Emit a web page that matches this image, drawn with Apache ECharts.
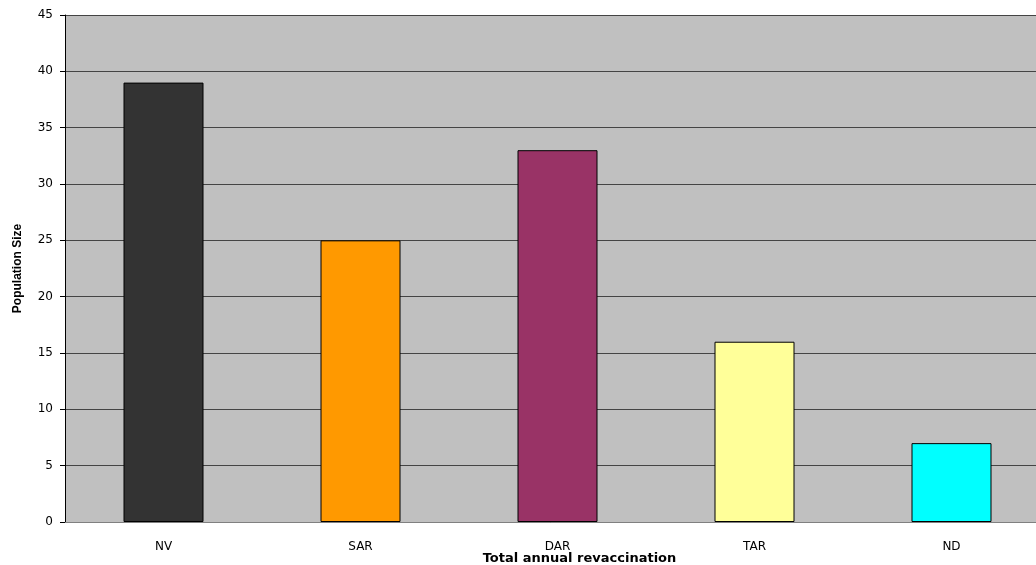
<!DOCTYPE html>
<html><head><meta charset="utf-8">
<script src="https://cdn.jsdelivr.net/npm/echarts@6/dist/echarts.min.js"></script>
<style>html,body{margin:0;padding:0;background:#fff}#c{width:1036px;height:565px}</style>
</head><body><div id="c"></div>
<script>
const categories = ['NV', 'SAR', 'DAR', 'TAR', 'ND'];
const values = [39, 25, 33, 16, 7];
const colors = ['#333333', '#FF9900', '#993366', '#FFFF99', '#00FFFF'];
const yTicks = [0, 5, 10, 15, 20, 25, 30, 35, 40, 45];

const FONT = 'DejaVu Sans, Liberation Sans, Arial';
const chart = echarts.init(document.getElementById('c'), null, {renderer: 'canvas'});
chart.setOption({
  animation: false,
  backgroundColor: '#ffffff',
  grid: {left: 65, right: -14, top: 15, bottom: 43, outerBoundsMode: 'none', containLabel: false,
         show: true, backgroundColor: '#C0C0C0', borderWidth: 0},
  xAxis: {
    type: 'category', data: categories,
    name: 'Total annual revaccination', nameLocation: 'middle', nameGap: 30, nameMoveOverlap: false,
    nameTextStyle: {fontFamily: FONT, fontWeight: 'bold', fontSize: 13, color: '#000', padding: [0, 0, 0, 44]},
    axisLine: {lineStyle: {color: '#808080', width: 1}},
    axisTick: {show: false},
    axisLabel: {fontFamily: FONT, fontSize: 12, color: '#000', margin: 19}
  },
  yAxis: {
    type: 'value', min: 0, max: 45, interval: 5,
    name: 'Population Size', nameLocation: 'middle', nameGap: 41, nameRotate: 90, nameMoveOverlap: false,
    nameTextStyle: {fontFamily: 'Liberation Sans, Arial', fontWeight: 'bold', fontSize: 12, color: '#000'},
    axisLine: {show: true, lineStyle: {color: '#000', width: 1}},
    axisTick: {show: true, length: 5, lineStyle: {color: '#000'}},
    axisLabel: {fontFamily: FONT, fontSize: 12, color: '#000', margin: 12,
      formatter: v => yTicks.includes(v) ? String(v) : ''},
    splitLine: {show: true, lineStyle: {color: '#444', width: 1}}
  },
  series: [{
    type: 'bar', barWidth: 80,
    data: values.map((v, i) => ({value: v, itemStyle: {color: colors[i]}})),
    itemStyle: {borderColor: '#000', borderWidth: 1}
  }]
});
</script></body></html>
